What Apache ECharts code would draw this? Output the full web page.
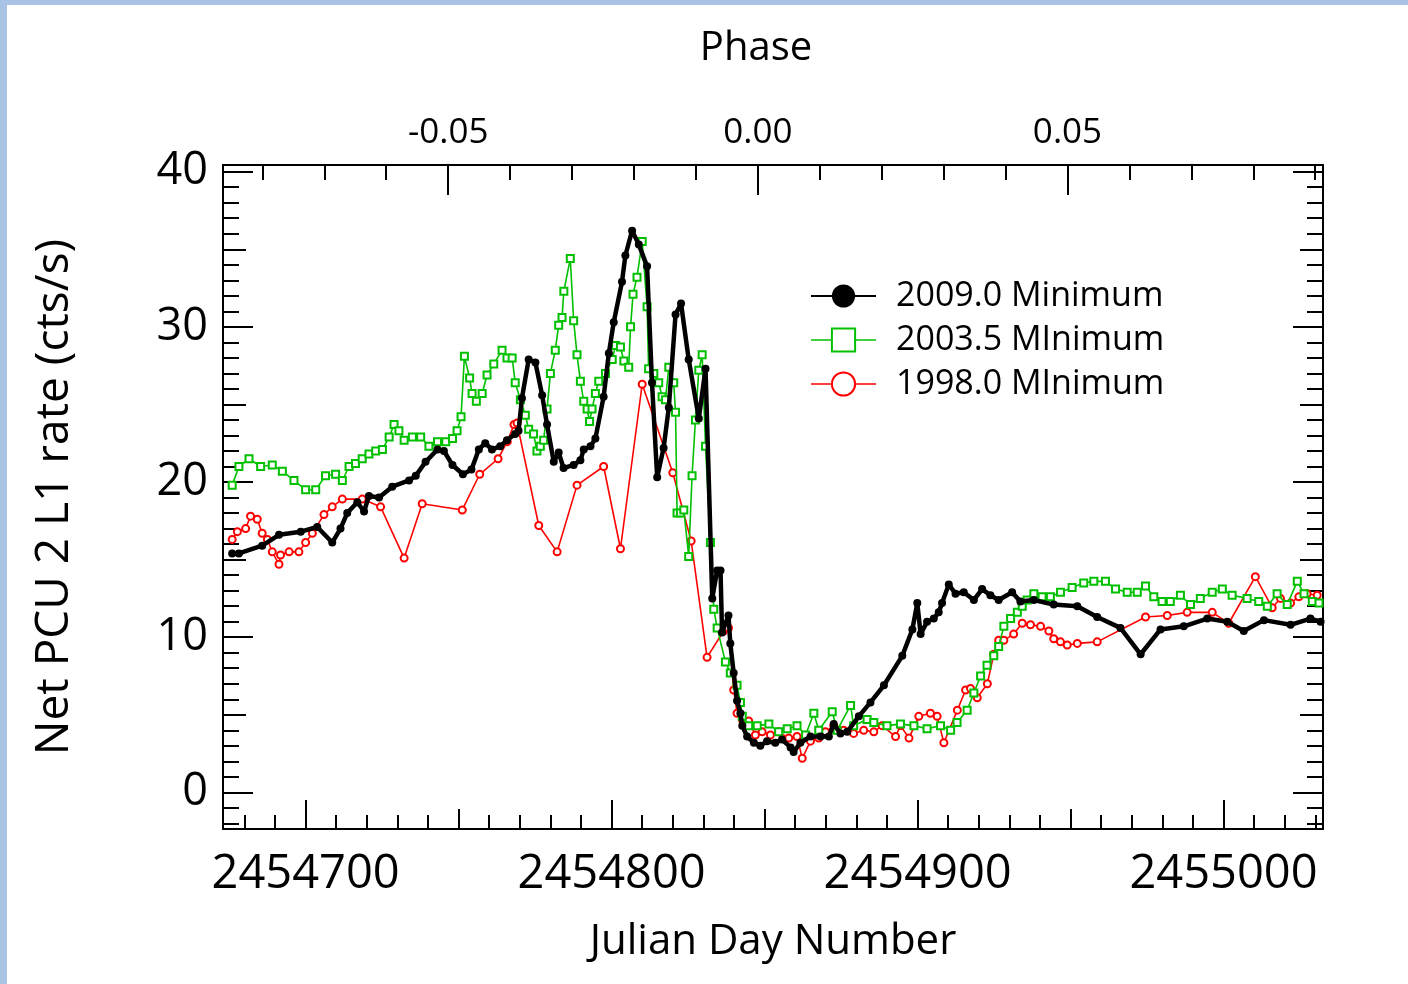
<!DOCTYPE html>
<html>
<head>
<meta charset="utf-8">
<script src="https://cdn.jsdelivr.net/npm/echarts@6/dist/echarts.min.js"></script>
<style>
  html, body { margin: 0; padding: 0; background: #fff; }
  #chart { position: absolute; left: 0; top: 0; width: 1408px; height: 984px; }
  .bl { position: absolute; left: 0; top: 0; width: 7px; height: 984px; background: #a8c3e3; }
  .bt { position: absolute; left: 0; top: 0; width: 1408px; height: 5px; background: #a8c3e3; }
</style>
</head>
<body>
<div id="chart"></div>
<div class="bl"></div>
<div class="bt"></div>
<script>
// ---------- data (Julian Day Number, net rate cts/s) ----------
const jd2009 = [2454676.0,2454678.2,2454685.8,2454691.3,2454698.4,2454703.8,2454708.7,2454711.4,2454713.6,2454716.9,2454719.1,2454720.7,2454724.0,2454728.3,2454733.8,2454736.0,2454739.2,2454743.1,2454745.2,2454748.0,2454751.4,2454754.2,2454756.6,2454758.7,2454760.9,2454763.6,2454765.8,2454768.5,2454769.6,2454770.7,2454772.9,2454775.1,2454777.3,2454778.9,2454781.1,2454782.7,2454784.3,2454787.6,2454789.8,2454790.9,2454793.1,2454794.7,2454797.4,2454799.1,2454800.7,2454803.4,2454804.5,2454806.7,2454808.9,2454811.6,2454813.2,2454814.9,2454817.0,2454818.7,2454820.9,2454822.7,2454825.2,2454828.5,2454830.7,2454832.9,2454834.5,2454835.6,2454836.1,2454838.2,2454838.8,2454839.9,2454841.0,2454842.1,2454842.7,2454844.3,2454846.5,2454848.6,2454850.8,2454853.5,2454855.7,2454858.5,2454859.5,2454861.7,2454865.0,2454868.3,2454871.0,2454872.6,2454874.8,2454877.0,2454880.8,2454884.6,2454889.0,2454895.0,2454898.3,2454899.9,2454901.0,2454903.1,2454905.3,2454906.9,2454908.0,2454910.2,2454912.4,2454915.1,2454918.4,2454921.1,2454923.8,2454926.5,2454930.9,2454933.6,2454938.0,2454944.5,2454952.2,2454958.7,2454966.3,2454972.9,2454979.4,2454987.0,2454994.7,2455001.2,2455006.6,2455013.2,2455021.9,2455028.4,2455031.7];
const rate2009 = [15.4,15.4,15.9,16.6,16.8,17.1,16.1,17.0,18.0,18.7,18.1,19.1,19.0,19.7,20.1,20.4,21.3,22.1,22.0,21.1,20.5,20.8,22.1,22.5,22.1,22.3,22.7,23.1,23.3,25.4,27.9,27.7,25.6,23.7,21.3,21.9,20.9,21.1,21.4,22.1,22.3,22.8,25.5,28.3,30.3,32.9,34.6,36.2,35.3,33.9,26.4,20.3,22.2,24.8,30.8,31.5,27.9,24.1,27.3,12.5,14.3,14.3,10.3,11.4,9.6,7.7,5.9,5.1,4.3,3.6,3.2,3.0,3.3,3.2,3.4,2.9,2.6,3.2,3.6,3.6,3.6,4.4,3.8,3.9,4.9,5.8,6.9,8.8,10.5,12.2,10.2,11.0,11.2,11.6,12.2,13.4,12.8,12.9,12.4,13.1,12.7,12.4,12.9,12.3,12.4,12.1,12.0,11.3,10.6,8.9,10.5,10.7,11.2,11.0,10.4,11.1,10.8,11.2,11.0];

const jd2003 = [2454676.0,2454678.2,2454681.5,2454685.3,2454689.1,2454692.4,2454696.2,2454700.0,2454703.3,2454706.5,2454709.8,2454712.0,2454714.2,2454716.3,2454718.5,2454720.7,2454722.9,2454725.1,2454727.3,2454728.9,2454730.5,2454732.2,2454734.9,2454737.6,2454740.3,2454743.1,2454745.8,2454748.0,2454749.5,2454750.8,2454751.9,2454753.6,2454754.4,2454755.8,2454757.7,2454759.3,2454761.5,2454764.2,2454765.8,2454767.5,2454768.5,2454770.2,2454771.8,2454772.9,2454774.5,2454775.6,2454776.7,2454777.8,2454778.9,2454780.0,2454781.6,2454782.7,2454783.8,2454784.4,2454786.5,2454787.6,2454788.7,2454789.8,2454790.9,2454792.0,2454792.8,2454793.6,2454794.7,2454795.8,2454798.0,2454800.2,2454801.3,2454802.9,2454804.0,2454805.6,2454806.2,2454807.0,2454808.3,2454810.0,2454811.6,2454812.1,2454813.8,2454815.4,2454816.5,2454817.6,2454818.7,2454820.3,2454820.9,2454821.4,2454822.5,2454823.6,2454825.2,2454826.3,2454827.4,2454828.5,2454829.6,2454830.7,2454832.3,2454833.4,2454834.5,2454837.2,2454838.8,2454841.0,2454842.1,2454842.7,2454844.8,2454847.6,2454851.4,2454854.6,2454857.4,2454860.6,2454863.4,2454866.1,2454867.7,2454872.1,2454873.7,2454878.1,2454879.1,2454883.5,2454885.7,2454890.0,2454894.4,2454898.8,2454903.1,2454907.5,2454910.8,2454912.9,2454916.2,2454918.4,2454920.6,2454922.7,2454924.9,2454926.5,2454928.2,2454930.4,2454932.6,2454934.2,2454935.8,2454938.0,2454940.7,2454943.4,2454946.7,2454950.5,2454954.3,2454957.6,2454961.4,2454964.7,2454968.5,2454971.8,2454974.5,2454977.2,2454979.9,2454982.6,2454985.9,2454989.2,2454992.4,2454996.3,2454999.6,2455002.8,2455007.7,2455011.5,2455014.3,2455017.5,2455020.8,2455024.1,2455026.3,2455029.0,2455031.2];
const rate2003 = [19.8,21.0,21.5,21.0,21.1,20.7,20.1,19.5,19.5,20.4,20.5,20.1,21.0,21.2,21.5,21.8,22.0,22.1,22.9,23.7,23.3,22.7,22.9,22.9,22.3,22.6,22.6,22.8,23.3,24.2,28.1,26.7,25.7,25.2,25.7,26.9,27.6,28.5,28.0,28.0,26.4,25.3,24.3,23.4,23.1,22.0,22.3,22.7,24.7,27.0,28.5,30.1,30.6,32.3,34.4,30.4,28.2,26.5,25.2,24.7,23.9,24.7,25.7,26.5,27.0,27.9,28.8,28.7,27.8,27.4,30.0,32.1,33.2,35.5,31.3,27.3,27.0,26.4,25.5,25.3,27.4,26.4,24.5,18.0,18.0,18.2,15.2,20.4,24.0,27.2,28.2,22.3,16.1,11.8,10.6,8.4,7.7,6.9,5.8,4.9,4.3,4.3,4.4,3.9,4.1,4.3,3.7,5.1,4.0,5.2,4.0,5.6,4.3,4.7,4.5,4.3,4.4,4.3,4.1,4.3,4.0,4.5,5.3,6.4,7.5,8.2,8.8,9.4,10.7,11.2,11.6,12.0,12.4,12.8,12.6,12.6,12.9,13.2,13.5,13.6,13.6,13.1,12.9,12.9,13.3,12.6,12.3,12.3,12.7,12.1,12.5,12.9,13.1,12.7,12.5,12.3,12.0,12.8,12.1,13.6,12.8,12.3,12.2];

const jd1998 = [2454676.0,2454677.7,2454680.4,2454682.0,2454684.2,2454685.8,2454687.5,2454689.1,2454691.3,2454691.8,2454694.6,2454697.8,2454700.0,2454702.2,2454706.0,2454708.7,2454712.0,2454718.5,2454724.5,2454732.2,2454738.1,2454751.2,2454756.9,2454762.9,2454765.9,2454768.1,2454769.1,2454776.2,2454782.2,2454788.7,2454797.4,2454802.9,2454810.0,2454820.0,2454826.0,2454831.2,2454836.6,2454838.2,2454839.9,2454841.0,2454842.7,2454844.8,2454847.0,2454849.2,2454851.9,2454854.6,2454857.9,2454860.6,2454862.3,2454865.0,2454867.7,2454869.9,2454872.6,2454875.9,2454879.1,2454882.4,2454885.7,2454888.4,2454892.8,2454894.4,2454897.2,2454900.4,2454904.2,2454906.4,2454908.6,2454913.0,2454915.7,2454917.3,2454919.5,2454922.8,2454924.9,2454926.5,2454928.2,2454931.4,2454934.2,2454936.9,2454940.2,2454942.9,2454944.5,2454946.7,2454948.9,2454952.2,2454958.7,2454974.5,2454981.6,2454988.1,2454996.3,2455001.7,2455010.4,2455015.9,2455018.6,2455021.9,2455024.6,2455027.3,2455030.6];
const rate1998 = [16.3,16.8,17.0,17.8,17.6,16.7,16.3,15.5,14.7,15.3,15.5,15.5,16.1,16.7,17.9,18.4,18.9,18.9,18.4,15.1,18.6,18.2,20.5,21.5,22.6,23.7,23.8,17.2,15.5,19.8,21.0,15.7,26.3,20.6,16.2,8.7,10.4,10.6,6.6,5.1,4.7,4.6,3.7,3.9,3.7,3.9,3.5,3.6,2.2,3.3,3.5,3.9,4.3,4.0,3.8,4.0,3.9,4.3,3.6,4.3,3.5,4.9,5.1,4.9,3.2,5.3,6.6,6.7,6.1,7.0,8.9,9.8,9.8,10.2,10.9,10.8,10.7,10.4,9.9,9.7,9.5,9.6,9.7,11.3,11.4,11.6,11.6,10.9,13.9,11.9,12.5,12.2,12.6,12.8,12.7];

const seriesNames = ['2009.0 Minimum', '2003.5 MInimum', '1998.0 MInimum'];

// ---------- axes / ticks ----------
const jdMin = 2454673.0, jdMax = 2455032.5;
const yMin = -2.36, yMax = 40.43;
const periodDays = 2024.0, phaseZeroJD = 2454847.792;
const jdMajorTicks = [2454700, 2454800, 2454900, 2455000];
const jdMediumTicks = [2454750, 2454850, 2454950];
const jdMinorTicks = [2454680,2454690,2454700,2454710,2454720,2454730,2454740,2454750,2454760,2454770,2454780,2454790,2454800,2454810,2454820,2454830,2454840,2454850,2454860,2454870,2454880,2454890,2454900,2454910,2454920,2454930,2454940,2454950,2454960,2454970,2454980,2454990,2455000,2455010,2455020,2455030];
const phaseMajorTicks = [-0.05, 0.0, 0.05];
const phaseMinorTicks = [-0.08,-0.07,-0.06,-0.05,-0.04,-0.03,-0.02,-0.01,0.0,0.01,0.02,0.03,0.04,0.05,0.06,0.07,0.08,0.09];
const yMajorTicks = [0, 10, 20, 30, 40];
const yMediumTicks = [5, 15, 25, 35];
const yMinorTicks = [-2,-1,0,1,2,3,4,5,6,7,8,9,10,11,12,13,14,15,16,17,18,19,20,21,22,23,24,25,26,27,28,29,30,31,32,33,34,35,36,37,38,39,40];

const FONT = 'Open Sans';
const phaseMin = (jdMin - phaseZeroJD) / periodDays;
const phaseMax = (jdMax - phaseZeroJD) / periodDays;

function pairs(xs, ys) { return xs.map((x, i) => [x, ys[i]]); }

function tickAxis(base, ticks, len, labels, extra) {
  return Object.assign({
    type: 'value',
    splitLine: { show: false },
    axisLine: { show: false, onZero: false },
    axisTick: { show: true, inside: true, length: len, customValues: ticks,
                lineStyle: { color: '#000', width: 2 } },
    axisLabel: labels ? labels : { show: false }
  }, base, extra || {});
}

const lineAxis = { show: true, onZero: false, lineStyle: { color: '#000', width: 2 } };

const xBase = { min: jdMin, max: jdMax, position: 'bottom', gridIndex: 0 };
const pBase = { min: phaseMin, max: phaseMax, position: 'top', gridIndex: 0 };
const yLBase = { min: yMin, max: yMax, position: 'left', gridIndex: 0 };
const yRBase = { min: yMin, max: yMax, position: 'right', gridIndex: 0 };

const xAxes = [
  tickAxis(xBase, jdMajorTicks, 29, {
    show: true, customValues: jdMajorTicks, margin: 22, color: '#000',
    fontFamily: FONT, fontSize: 47, formatter: v => String(v)
  }, {
    axisLine: lineAxis,
    name: 'Julian Day Number', nameLocation: 'middle', nameGap: 92,
    nameTextStyle: { color: '#000', fontFamily: FONT, fontSize: 42 }
  }),
  tickAxis(xBase, jdMediumTicks, 20),
  tickAxis(xBase, jdMinorTicks, 14),
  tickAxis(pBase, phaseMajorTicks, 30, {
    show: true, customValues: phaseMajorTicks, margin: 14, color: '#000',
    fontFamily: FONT, fontSize: 35, formatter: v => v.toFixed(2)
  }, {
    axisLine: lineAxis,
    name: 'Phase', nameLocation: 'middle', nameGap: 96,
    nameTextStyle: { color: '#000', fontFamily: FONT, fontSize: 40, padding: [0, 34, 0, 0] }
  }),
  tickAxis(pBase, phaseMinorTicks, 15)
];

const yAxes = [
  tickAxis(yLBase, yMajorTicks, 30, {
    show: true, customValues: yMajorTicks, margin: 15, color: '#000',
    fontFamily: FONT, fontSize: 45, formatter: v => String(v)
  }, {
    axisLine: lineAxis,
    name: 'Net PCU 2 L1 rate (cts/s)', nameLocation: 'middle', nameGap: 145,
    nameTextStyle: { color: '#000', fontFamily: FONT, fontSize: 46 }
  }),
  tickAxis(yLBase, yMediumTicks, 23),
  tickAxis(yLBase, yMinorTicks, 16),
  tickAxis(yRBase, yMajorTicks, 30, null, { axisLine: lineAxis }),
  tickAxis(yRBase, yMediumTicks, 23),
  tickAxis(yRBase, yMinorTicks, 16)
];

const chart = echarts.init(document.getElementById('chart'), null, { renderer: 'canvas' });
chart.setOption({
  animation: false,
  backgroundColor: '#fff',
  grid: { left: 223, right: 85, top: 165, bottom: 155, containLabel: false },
  xAxis: xAxes,
  yAxis: yAxes,
  legend: {
    orient: 'vertical', left: 810, top: 279, padding: 0,
    itemWidth: 65, itemHeight: 29, itemGap: 10,
    textStyle: { color: '#000', fontFamily: FONT, fontSize: 34, padding: [0, 0, 0, 15] },
    data: [
      { name: seriesNames[0], lineStyle: { width: 2 } },
      { name: seriesNames[1], lineStyle: { width: 1.5 } },
      { name: seriesNames[2], lineStyle: { width: 1.5 } }
    ]
  },
  series: [
    {
      name: seriesNames[2], type: 'line', xAxisIndex: 0, yAxisIndex: 0, z: 2,
      data: pairs(jd1998, rate1998),
      symbol: 'emptyCircle', symbolSize: 7, showAllSymbol: true,
      lineStyle: { color: '#ff0000', width: 1.6 },
      itemStyle: { color: '#ff0000', borderWidth: 1.2 }
    },
    {
      name: seriesNames[1], type: 'line', xAxisIndex: 0, yAxisIndex: 0, z: 3,
      data: pairs(jd2003, rate2003),
      symbol: 'emptyRect', symbolSize: 7, showAllSymbol: true,
      lineStyle: { color: '#00c000', width: 1.6 },
      itemStyle: { color: '#00c000', borderWidth: 1.2 }
    },
    {
      name: seriesNames[0], type: 'line', xAxisIndex: 0, yAxisIndex: 0, z: 4,
      data: pairs(jd2009, rate2009),
      symbol: 'circle', symbolSize: 8, showAllSymbol: true,
      lineStyle: { color: '#000', width: 4.5 },
      itemStyle: { color: '#000' }
    }
  ]
});
</script>
</body>
</html>
